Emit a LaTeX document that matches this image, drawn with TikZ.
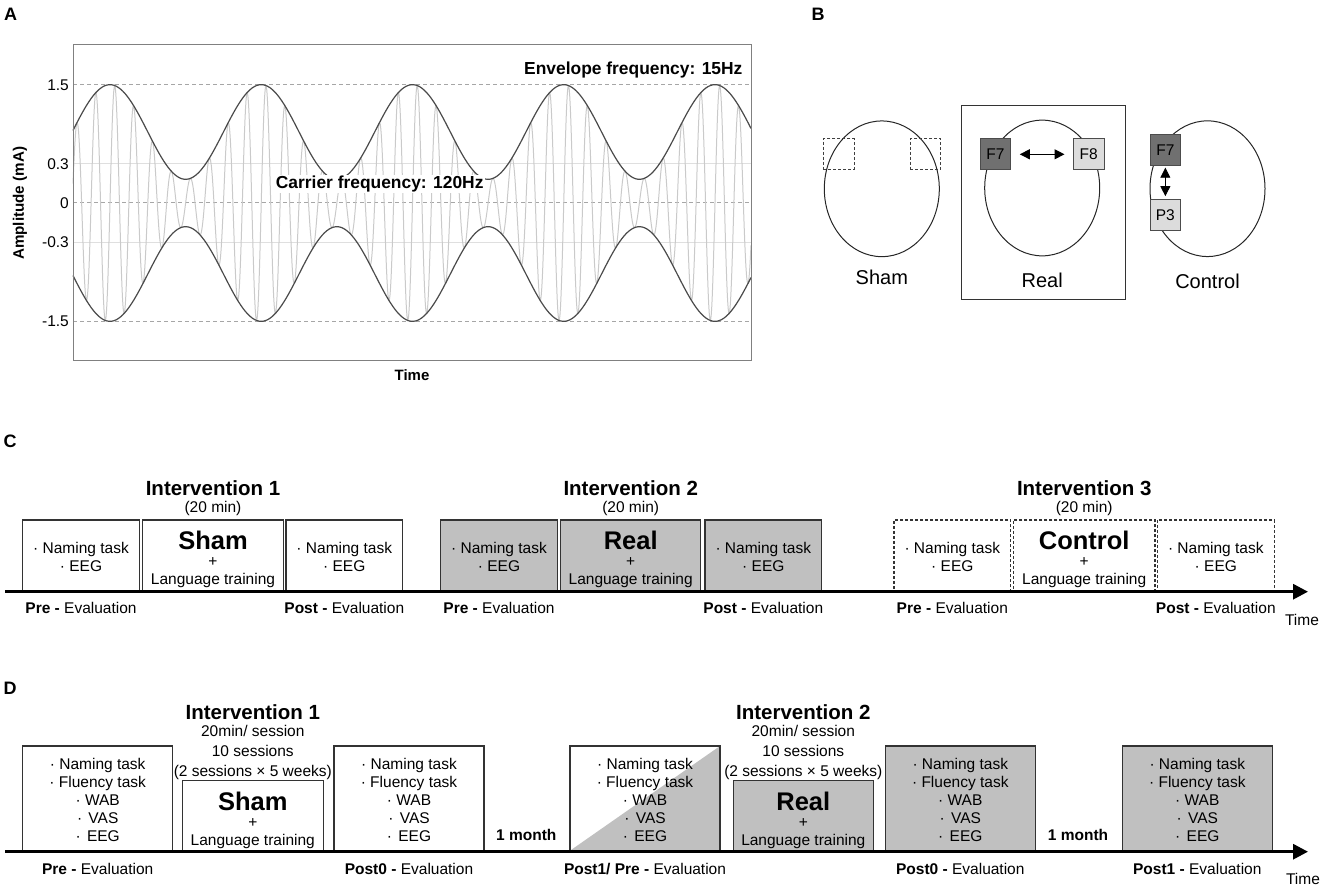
\documentclass[tikz,border=0pt]{standalone}
\usepackage{fontspec}
\setmainfont{Liberation Sans}
\usetikzlibrary{positioning, arrows.meta, shapes.geometric}
\definecolor{boxgray}{HTML}{C0C0C0}
\definecolor{elecdark}{HTML}{707070}
\definecolor{eleclight}{HTML}{DCDCDC}
\definecolor{wavegray}{HTML}{CACACA}
\definecolor{envgray}{HTML}{4A4A4A}
\newcommand{\stimtext}[1]{\rule{0pt}{27pt}{\fontsize{25.5}{26}\selectfont\bfseries #1}\\[-1pt]+\\Language training}
\newcommand{\evalC}{\rule{0pt}{15pt}· Naming task\\· EEG}
\newcommand{\evalD}{\rule{0pt}{15pt}· Naming task\\· Fluency task\\· WAB\\·\hspace{2pt} VAS\\·\hspace{2pt} EEG}
\tikzset{
  every node/.style={font=\fontsize{15.5}{18}\selectfont},
  panel/.style={font=\fontsize{18}{20}\selectfont\bfseries},
  title/.style={font=\fontsize{20.5}{22}\selectfont\bfseries},
  note/.style={font=\fontsize{17.4}{19}\selectfont\bfseries},
  evallabel/.style={inner sep=2pt},
  cbox/.style={draw=black!80, line width=1.2pt, minimum width=116.7pt, minimum height=70.7pt, align=center, inner sep=0pt},
  cstim/.style={cbox, minimum width=140.7pt},
  dbox/.style={draw=black!80, line width=1.2pt, minimum width=150pt, minimum height=104.7pt, align=center, inner sep=0pt},
  dstim/.style={dbox, minimum width=140.7pt, minimum height=70pt},
  shaded/.style={fill=boxgray},
  dashbox/.style={dash pattern=on 3pt off 2pt},
  head/.style={ellipse, draw=black!85, line width=1pt, minimum width=115pt, minimum height=135.7pt, inner sep=0pt},
  elec/.style={draw=black!70, line width=1pt, minimum size=30.7pt, inner sep=0pt},
  condname/.style={font=\fontsize{20}{22}\selectfont, inner sep=0pt},
  elecarrow/.style={{Triangle[length=10pt,width=10pt]}-{Triangle[length=10pt,width=10pt]}, line width=1.2pt},
  timeline/.style={line width=3pt, -{Triangle[length=15pt,width=15pt]}},
  griddash/.style={gray!70, line width=1pt, dash pattern=on 4pt off 3pt},
  gridlight/.style={gray!25, line width=1pt},
}

\begin{document}
\begin{tikzpicture}[x=1pt, y=-1pt]
\useasboundingbox (0,0) rectangle (1325,890);

% ---------- A: stimulation waveform
\node[panel] (labA) at (10.7,14) {A};
\foreach \v in {85,203,321.7}
  \draw[griddash] (73,\v) -- (751,\v);
\foreach \v in {163.7,242.3}
  \draw[gridlight] (73,\v) -- (751,\v);
\draw[wavegray, line width=1pt] plot[domain=73:751, samples=1400]
  (\x, {203 - 78.9*(0.9+0.6*cos((\x-110)/151.25*360))*sin((\x-110)/18.906*360)});
\draw[envgray, line width=1.2pt] plot[domain=73:751, samples=300]
  (\x, {203 - 78.9*(0.9+0.6*cos((\x-110)/151.25*360))});
\draw[envgray, line width=1.2pt] plot[domain=73:751, samples=300]
  (\x, {203 + 78.9*(0.9+0.6*cos((\x-110)/151.25*360))});
\draw[gray, line width=1pt] (73,45) rectangle (751,360.7);
\foreach \v/\t/\n in {85/1.5/a, 163.7/0.3/b, 203/0/c, 242.3/-0.3/d, 321.7/-1.5/e}
  \node[anchor=east, inner sep=0pt] (tick\n) at (69,\v) {\t};
\node[rotate=90, font=\fontsize{15.2}{17}\selectfont\bfseries] (ylab) at (20,203.3) {Amplitude (mA)};
\node[font=\fontsize{15}{17}\selectfont\bfseries] (xlab) at (412,375) {Time};
\node[note] (envnote) at (633.3,70) {Envelope frequency: 15Hz};
\node[note, fill=white, inner sep=1pt] (carnote) at (379.7,184) {Carrier frequency: 120Hz};

% ---------- B: montages
\node[panel] (labB) at (818,14) {B};
\draw[black!80, line width=1pt] (961.7,106) rectangle (1125,300);
\node[head] (headS) at (881.8,188.8) {};
\node[head] (headR) at (1042.2,188) {};
\node[head] (headC) at (1207.5,188.7) {};
\node[elec, draw=black!75, dashbox] (shamL) at (838.65,154.15) {};
\node[elec, draw=black!75, dashbox] (shamR) at (925.35,154.15) {};
\node[elec, fill=elecdark] (f7r) at (995.35,154.3) {F7};
\node[elec, fill=eleclight] (f8r) at (1088.65,154.3) {F8};
\draw[elecarrow, shorten <=8.6pt, shorten >=8.3pt] (f7r) -- (f8r);
\node[elec, fill=elecdark] (f7c) at (1165.35,150.35) {F7};
\node[elec, fill=eleclight] (p3c) at (1165.35,215) {P3};
\draw[elecarrow, line width=0.8pt, shorten <=1.5pt, shorten >=3pt] (f7c) -- (p3c);
\node[condname, below=12.85pt of headS] (nameS) {Sham};
\node[condname, below=16.85pt of headR] (nameR) {Real};
\node[condname, below=16.3pt of headC] (nameC) {Control};

% ---------- C: single-session design
\node[panel] (labC) at (10,441.5) {C};
\coordinate (cstart) at (5,591.7);
\coordinate (cend) at (1308,591.7);
\node[cbox] (preC1) at (81,555.35) {\evalC};
\node[cstim] (shamC) at (213,555.35) {\stimtext{Sham}};
\node[cbox] (postC1) at (344.3,555.35) {\evalC};
\node[cbox, shaded] (preC2) at (499,555.35) {\evalC};
\node[cstim, shaded, minimum width=140pt] (realC) at (630.7,555.35) {\stimtext{Real}};
\node[cbox, shaded] (postC2) at (763.3,555.35) {\evalC};
\node[cbox, dashbox] (preC3) at (952.3,555.35) {\evalC};
\node[cstim, dashbox, minimum width=141.7pt] (ctrlC) at (1084.2,555.35) {\stimtext{Control}};
\node[cbox, dashbox, minimum width=117pt] (postC3) at (1215.8,555.35) {\evalC};
\draw[timeline] (cstart) -- (cend);
\node (timeC) at (1302,620) {Time};
\foreach \b/\k in {shamC/1, realC/2, ctrlC/3} {
  \node[title] (intC\k) at ([yshift=67pt]\b.center) {Intervention \k};
  \node (durC\k) at ([yshift=47pt]\b.center) {(20 min)};
}
\foreach \b/\w in {preC1/Pre, postC1/Post, preC2/Pre, postC2/Post, preC3/Pre, postC3/Post}
  \node[evallabel, below=8.5pt of \b] (lab\b) {\textbf{\w\ -} Evaluation};

% ---------- D: multi-session design
\node[panel] (labD) at (10,688) {D};
\coordinate (dstart) at (5,851.7);
\coordinate (dend) at (1308,851.7);
\node[dbox] (preD) at (97.7,798.35) {\evalD};
\node[dstim] (shamD) at (252.8,815.7) {\stimtext{Sham}};
\node[dbox] (postD0) at (409,798.35) {\evalD};
\node[dbox, path picture={\fill[boxgray] (path picture bounding box.south west) -- (path picture bounding box.south east) -- (path picture bounding box.north east) -- cycle;}] (postpreD) at (645,798.35) {\evalD};
\node[dstim, shaded, minimum width=140pt] (realD) at (803.3,815.7) {\stimtext{Real}};
\node[dbox, shaded] (postD0b) at (960.3,798.35) {\evalD};
\node[dbox, shaded] (postD1) at (1197.3,798.35) {\evalD};
\draw[timeline] (dstart) -- (dend);
\node (timeD) at (1303,879) {Time};
\node[font=\fontsize{15.5}{18}\selectfont\bfseries] (gapD1) at (526.3,835) {1 month};
\node[font=\fontsize{15.5}{18}\selectfont\bfseries] (gapD2) at (1078,835) {1 month};
\foreach \b/\k in {shamD/1, realD/2} {
  \node[title] (intD\k) at ([yshift=103.4pt]\b.center) {Intervention \k};
  \node[align=center, font=\fontsize{15.5}{19.7}\selectfont] (sesD\k) at ([yshift=63.4pt]\b.center) {20min/ session\\10 sessions\\(2 sessions × 5 weeks)};
}
\foreach \b/\w in {preD/Pre, postD0/Post0, postpreD/{Post1/ Pre}, postD0b/Post0, postD1/Post1}
  \node[evallabel, below=9.5pt of \b] (lab\b) {\textbf{\w\ -} Evaluation};
\end{tikzpicture}
\end{document}
